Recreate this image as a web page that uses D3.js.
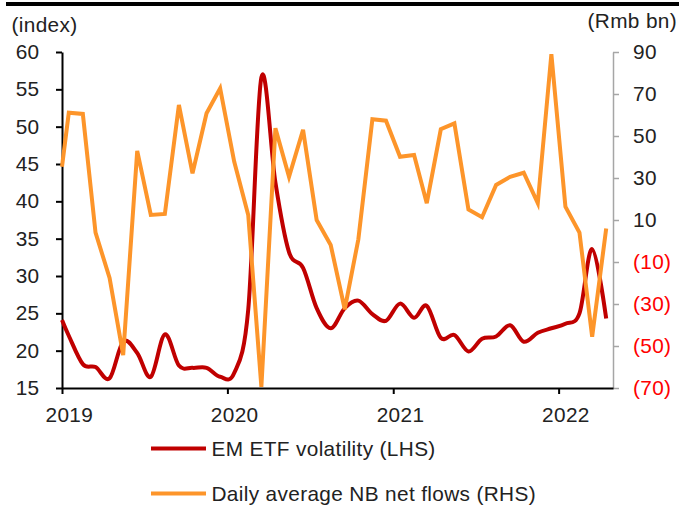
<!DOCTYPE html>
<html>
<head>
<meta charset="utf-8">
<script src="https://cdn.jsdelivr.net/npm/d3@7"></script>
<style>
  body { margin: 0; background: #fff; }
  text { font-family: "Liberation Sans", Arial, sans-serif; letter-spacing: 0.35px; }
</style>
</head>
<body>
<div id="chart"></div>
<script>
// monthly observations, plus the opening value at the very start of the axis
var startDate = "2019-01-01";
var months = [
  "2019-01", "2019-02", "2019-03", "2019-04", "2019-05", "2019-06",
  "2019-07", "2019-08", "2019-09", "2019-10", "2019-11", "2019-12",
  "2020-01", "2020-02", "2020-03", "2020-04", "2020-05", "2020-06",
  "2020-07", "2020-08", "2020-09", "2020-10", "2020-11", "2020-12",
  "2021-01", "2021-02", "2021-03", "2021-04", "2021-05", "2021-06",
  "2021-07", "2021-08", "2021-09", "2021-10", "2021-11", "2021-12",
  "2022-01", "2022-02", "2022-03", "2022-04"];

var volStart = 24.1;
var volatility = [
  22.0, 18.2, 17.8, 16.3, 21.2, 19.7, 16.5, 22.2, 18.0, 17.7, 17.7, 16.5,
  17.0, 25.5, 56.6, 42.5, 33.2, 31.1, 25.7, 23.0, 25.7, 26.7, 24.9, 24.0,
  26.3, 24.4, 26.0, 21.7, 22.1, 19.9, 21.6, 21.9, 23.4, 21.2, 22.4, 23.0,
  23.6, 25.0, 33.6, 24.3];

var flowStart = 35.4;
var flows = [
  61.1, 60.5, 4, -17.6, -54.3, 42.9, 12.4, 12.9, 64.8, 32.2, 60.8, 72.7,
  37.8, 12.4, -69.5, 53.7, 30.6, 52.9, 10, -1.9, -32.5, 0.8, 58, 57.3,
  40.1, 41, 18, 53.2, 56, 15, 11.3, 26.7, 30.6, 32.5, 18, 89,
  16.3, 4, -45.6, 6];

var years = ["2019", "2020", "2021", "2022"];
var leftTicks = [15, 20, 25, 30, 35, 40, 45, 50, 55, 60];
var rightTicks = [-70, -50, -30, -10, 10, 30, 50, 70, 90];
var seriesNames = ["EM ETF volatility (LHS)", "Daily average NB net flows (RHS)"];

var width = 679, height = 505;
var margin = { top: 52, right: 66, bottom: 117, left: 62 };
var red = "#c00000", orange = "#fd952a";

var parseDay = d3.timeParse("%Y-%m-%d");
var mid = m => parseDay(m + "-16");

var volData = [{ date: parseDay(startDate), value: volStart }]
  .concat(months.map((m, i) => ({ date: mid(m), value: volatility[i] })));
var flowData = [{ date: parseDay(startDate), value: flowStart }]
  .concat(months.map((m, i) => ({ date: mid(m), value: flows[i] })));

var svg = d3.select("#chart").append("svg")
    .attr("width", width)
    .attr("height", height);

// thick rule across the top
svg.append("rect")
    .attr("x", 6).attr("y", 2)
    .attr("width", width - 6).attr("height", 4)
    .attr("fill", "#000");

var x = d3.scaleTime()
    .domain([parseDay("2019-01-01"), parseDay("2022-05-01")])
    .range([margin.left, width - margin.right]);
var yL = d3.scaleLinear().domain([15, 60]).range([height - margin.bottom, margin.top]);
var yR = d3.scaleLinear().domain([-70, 90]).range([height - margin.bottom, margin.top]);

var fs = "20.8px";

// left axis
var gL = svg.append("g")
    .attr("transform", `translate(${margin.left},0)`)
    .call(d3.axisLeft(yL).tickValues(leftTicks).tickSize(6).tickPadding(16.5).tickSizeOuter(0));
gL.select(".domain").attr("stroke", "#000").attr("stroke-width", 2);
gL.selectAll(".tick line").attr("stroke", "#000").attr("stroke-width", 2);
gL.selectAll(".tick text").attr("fill", "#222").style("font-size", fs);

// right axis
var gR = svg.append("g")
    .attr("transform", `translate(${width - margin.right},0)`)
    .call(d3.axisRight(yR).tickValues(rightTicks).tickSize(6).tickPadding(14).tickSizeOuter(0)
      .tickFormat(d => d < 0 ? `(${-d})` : d));
gR.select(".domain").attr("stroke", "#a6a6a6").attr("stroke-width", 1.5);
gR.selectAll(".tick line").attr("stroke", "#a6a6a6").attr("stroke-width", 1.5);
gR.selectAll(".tick text")
    .attr("fill", d => d < 0 ? "#ff0000" : "#222")
    .style("font-size", fs);

// bottom axis: ticks on Jan 1, labels centred on January
var yearDates = years.map(y => parseDay(y + "-01-01"));
var labelShift = x(mid("2019-01")) - x(parseDay("2019-01-01"));
var gX = svg.append("g")
    .attr("transform", `translate(0,${height - margin.bottom})`)
    .call(d3.axisBottom(x).tickValues(yearDates).tickSize(6).tickPadding(13.5).tickSizeOuter(0)
      .tickFormat(d3.timeFormat("%Y")));
gX.select(".domain").attr("stroke", "#000").attr("stroke-width", 2);
gX.selectAll(".tick line").attr("stroke", "#000").attr("stroke-width", 2);
gX.selectAll(".tick text").attr("dx", labelShift).attr("fill", "#222").style("font-size", fs);

// unit labels
svg.append("text").attr("x", 11.5).attr("y", 32)
    .style("font-size", fs).attr("fill", "#222").text("(index)");
svg.append("text").attr("x", 677).attr("y", 27.5)
    .attr("text-anchor", "end")
    .style("font-size", fs).attr("fill", "#222").text("(Rmb bn)");

// series
var volLine = d3.line()
    .x(d => x(d.date)).y(d => yL(d.value))
    .curve(d3.curveCardinal.tension(0));
var flowLine = d3.line()
    .x(d => x(d.date)).y(d => yR(d.value));

svg.append("path").datum(volData)
    .attr("d", volLine)
    .attr("fill", "none").attr("stroke", red).attr("stroke-width", 4)
    .attr("stroke-linejoin", "round");
svg.append("path").datum(flowData)
    .attr("d", flowLine)
    .attr("fill", "none").attr("stroke", orange).attr("stroke-width", 4)
    .attr("stroke-linejoin", "miter");

// legend
var legend = svg.append("g").selectAll("g")
    .data(seriesNames)
    .enter().append("g")
    .attr("transform", (d, i) => `translate(151,${448.5 + i * 45})`);
legend.append("line")
    .attr("x1", 0).attr("x2", 55)
    .attr("stroke", (d, i) => i == 0 ? red : orange)
    .attr("stroke-width", 4);
legend.append("text")
    .attr("x", 60.5).attr("y", 7)
    .style("font-size", fs).attr("fill", "#222")
    .text(d => d);
</script>
</body>
</html>
